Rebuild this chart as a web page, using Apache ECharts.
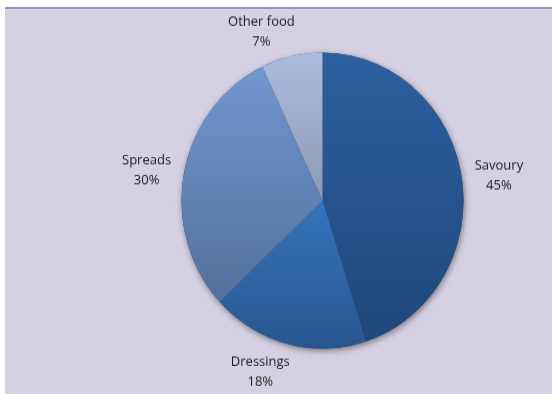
<!DOCTYPE html>
<html>
<head>
<meta charset="utf-8">
<script src="https://cdn.jsdelivr.net/npm/echarts@6/dist/echarts.min.js"></script>
<style>
  html, body { margin: 0; padding: 0; background: #ffffff; width: 552px; height: 394px; overflow: hidden; }
  #frame {
    position: absolute; left: 5px; top: 7px; width: 547px; height: 385px;
    background: #d6d1e2; border-top: 2px solid #9c8fba;
    overflow: hidden;
  }
  #chart {
    position: absolute; left: 0; top: 0; width: 547px; height: 367px;
    transform: scaleY(1.0496); transform-origin: 0 0;
  }
</style>
</head>
<body>
<div id="frame"><div id="chart"></div></div>
<script>
// Share of products by category (percent)
const categories = ['Savoury', 'Dressings', 'Spreads', 'Other food'];
const shares = [45, 18, 30, 7];

// Per-slice vertical shading, top colour then bottom colour
const sliceTop = ['#2d60a0', '#3674bc', '#7197cf', '#abbdde'];
const sliceBottom = ['#1f487a', '#29568f', '#54709c', '#8c9bb3'];

const center = [317.5, 182.6];
const radius = 141;
const labelGap = 6;

// mid-angle direction of each slice (clockwise from 12 o'clock)
const total = shares.reduce((a, b) => a + b, 0);
const midDirs = [];
let acc = 0;
shares.forEach(v => {
  const a = ((acc + v / 2) / total) * Math.PI * 2;
  midDirs.push([Math.sin(a), -Math.cos(a)]);
  acc += v;
});

// Place each label just outside the rim, pushed away along the mid-angle
function placeLabel(params) {
  const d = midDirs[params.dataIndex];
  const w = params.labelRect.width;
  const h = params.labelRect.height;
  const px = center[0] + (radius + labelGap) * d[0];
  const py = center[1] + (radius + labelGap) * d[1];
  let cx, cy;
  if (Math.abs(d[1]) >= Math.abs(d[0])) {
    cx = px + Math.sign(d[0]) * 0.87 * (w / 2);
    cy = py + Math.sign(d[1]) * (h / 2) + 2;
  } else {
    cx = px + Math.sign(d[0]) * (w / 2 + 7);
    cy = py + d[1] * (h / 2) * 0.7 + 1;
  }
  return { x: cx, y: cy, align: 'center', verticalAlign: 'middle' };
}

const pieData = categories.map((name, i) => ({
  name: name,
  value: shares[i],
  itemStyle: {
    color: new echarts.graphic.LinearGradient(0, 0, 0, 1, [
      { offset: 0, color: sliceTop[i] },
      { offset: 1, color: sliceBottom[i] }
    ])
  }
}));

const chart = echarts.init(document.getElementById('chart'), null, { renderer: 'canvas' });
chart.setOption({
  backgroundColor: 'transparent',
  animation: false,
  series: [
    {
      // soft drop shadow under the whole disc
      type: 'pie',
      silent: true,
      center: center,
      radius: radius,
      label: { show: false },
      labelLine: { show: false },
      itemStyle: {
        color: '#1f3f66',
        shadowBlur: 6,
        shadowOffsetX: 1,
        shadowOffsetY: 2,
        shadowColor: 'rgba(0,0,0,0.45)'
      },
      data: [{ value: 1, name: 'base' }]
    },
    {
      type: 'pie',
      center: center,
      radius: radius,
      startAngle: 90,
      clockwise: true,
      avoidLabelOverlap: false,
      labelLine: { show: false },
      itemStyle: { borderWidth: 0 },
      label: {
        show: true,
        position: 'outside',
        formatter: '{b}\n{c}%',
        fontFamily: 'Open Sans',
        fontSize: 13,
        lineHeight: 19,
        color: '#1a1a1a',
        align: 'center'
      },
      labelLayout: placeLabel,
      data: pieData
    }
  ]
});
</script>
</body>
</html>
